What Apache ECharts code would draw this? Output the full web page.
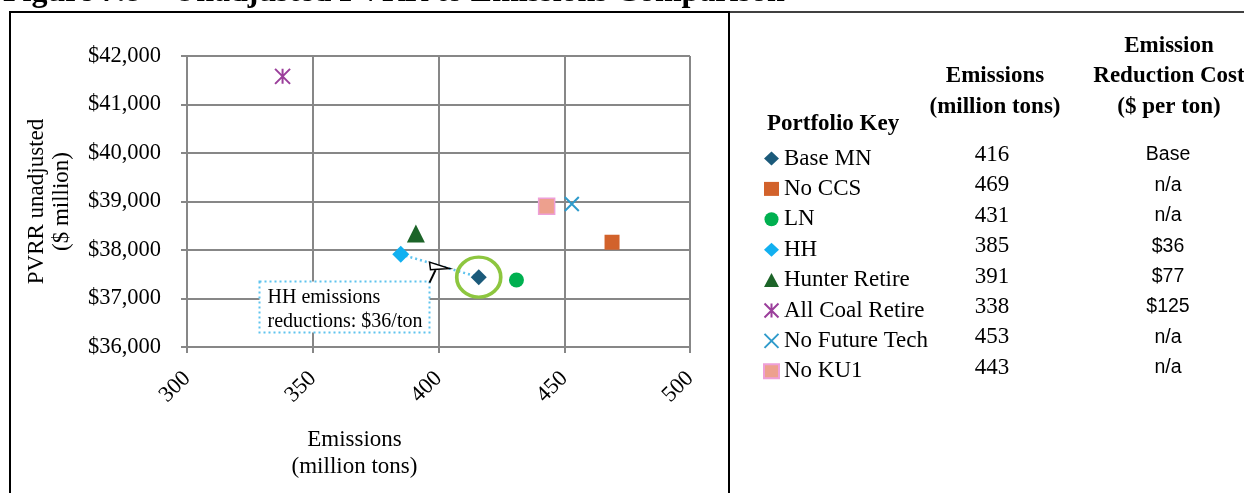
<!DOCTYPE html>
<html>
<head>
<meta charset="utf-8">
<script src="https://cdn.jsdelivr.net/npm/echarts@6/dist/echarts.min.js"></script>
<style>
  html, body { margin: 0; padding: 0; background: #ffffff; }
  #chart { width: 1244px; height: 493px; }
</style>
</head>
<body>
<div id="chart"></div>
<script>
// Portfolio results: emissions (million tons) vs. unadjusted PVRR ($ million)
const portfolios = ['Base MN', 'No CCS', 'LN', 'HH', 'Hunter Retire', 'All Coal Retire', 'No Future Tech', 'No KU1'];
const emissions = [416, 469, 431, 385, 391, 338, 453, 443];
const pvrr = [37440, 38160, 37380, 37910, 38340, 41580, 38950, 38900];
const reductionCost = ['Base', 'n/a', 'n/a', '$36', '$77', '$125', 'n/a', 'n/a'];
const xTicks = [300, 350, 400, 450, 500];
const yTicks = [36000, 37000, 38000, 39000, 40000, 41000, 42000];
const calloutLines = ['HH emissions', 'reductions: $36/ton'];

const SERIF = '"Liberation Serif", "Times New Roman", serif';
const SANS = '"Liberation Sans", Arial, sans-serif';
const GRID_GRAY = '#878787';

// marker look per portfolio
const markerStyles = {
  'Base MN':         { symbol: 'diamond',  size: 16, itemStyle: { color: '#1B5A7A', opacity: 1 } },
  'No CCS':          { symbol: 'rect',     size: 15, itemStyle: { color: '#D2622B', opacity: 1 } },
  'LN':              { symbol: 'circle',   size: 15, itemStyle: { color: '#00B050', opacity: 1 } },
  'HH':              { symbol: 'diamond',  size: 17, itemStyle: { color: '#12B0F0', opacity: 1 } },
  'Hunter Retire':   { symbol: 'triangle', size: 18, itemStyle: { color: '#1C6428', opacity: 1 } },
  'All Coal Retire': { symbol: 'path://M0,0L10,10M10,0L0,10M5,0L5,10', size: 15,
                       itemStyle: { color: 'rgba(0,0,0,0)', borderColor: '#9B3F9B', borderWidth: 2, opacity: 1 } },
  'No Future Tech':  { symbol: 'path://M0,0L10,10M10,0L0,10', size: 14,
                       itemStyle: { color: 'rgba(0,0,0,0)', borderColor: '#2F9BCB', borderWidth: 2, opacity: 1 } },
  'No KU1':          { symbol: 'rect',     size: 16,
                       itemStyle: { color: '#EDA08E', borderColor: '#EE9FD8', borderWidth: 1.5, opacity: 1 } }
};

const iBase = portfolios.indexOf('Base MN');
const iHH = portfolios.indexOf('HH');

const scatterSeries = portfolios.map((name, i) => ({
  name: name,
  type: 'scatter',
  symbol: markerStyles[name].symbol,
  symbolSize: markerStyles[name].size,
  itemStyle: markerStyles[name].itemStyle,
  z: 5,
  data: [[emissions[i], pvrr[i]]]
}));

// dotted link HH -> Base MN
const linkSeries = {
  name: 'link',
  type: 'line',
  symbol: 'none',
  silent: true,
  z: 3,
  lineStyle: { color: '#5EC3EE', width: 2.5, type: [2, 3] },
  data: [[emissions[iHH], pvrr[iHH]], [emissions[iBase], pvrr[iBase]]]
};

// highlight ring around the base portfolio
const ringSeries = {
  name: 'ring',
  type: 'scatter',
  symbol: 'circle',
  symbolSize: [44, 40],
  silent: true,
  z: 4,
  itemStyle: { color: 'rgba(0,0,0,0)', borderColor: '#8DC63F', borderWidth: 3.5, opacity: 1 },
  data: [[emissions[iBase], pvrr[iBase]]]
};

const chart = echarts.init(document.getElementById('chart'), null, { renderer: 'canvas' });

const axisLineStyle = { color: GRID_GRAY, width: 2 };

chart.setOption({
  animation: false,
  backgroundColor: '#ffffff',
  grid: { left: 187, right: 554, top: 56, bottom: 146, containLabel: false },
  xAxis: {
    type: 'value',
    min: xTicks[0],
    max: xTicks[xTicks.length - 1],
    interval: xTicks[1] - xTicks[0],
    axisLine: { show: true, lineStyle: axisLineStyle },
    axisTick: { show: true, length: 6, lineStyle: axisLineStyle },
    splitLine: { show: true, lineStyle: axisLineStyle },
    axisLabel: { rotate: 45, margin: 28, fontFamily: SERIF, fontSize: 22.5, color: '#000' },
    name: 'Emissions\n(million tons)',
    nameLocation: 'middle',
    nameGap: 79,
    nameTextStyle: { fontFamily: SERIF, fontSize: 23, color: '#000', lineHeight: 27, padding: [0, 168, 0, 0] }
  },
  yAxis: {
    type: 'value',
    min: yTicks[0],
    max: yTicks[yTicks.length - 1],
    interval: yTicks[1] - yTicks[0],
    axisLine: { show: true, lineStyle: axisLineStyle },
    axisTick: { show: true, length: 6, lineStyle: axisLineStyle },
    splitLine: { show: true, lineStyle: axisLineStyle },
    axisLabel: {
      margin: 26, fontFamily: SERIF, fontSize: 22.5, color: '#000',
      formatter: v => '$' + v.toLocaleString('en-US')
    },
    name: 'PVRR unadjusted\n($ million)',
    nameLocation: 'middle',
    nameRotate: 90,
    nameGap: 113,
    nameTextStyle: { fontFamily: SERIF, fontSize: 23, color: '#000', lineHeight: 25 }
  },
  legend: {
    data: portfolios,
    orient: 'vertical',
    left: 758,
    top: 142,
    itemWidth: 15,
    itemHeight: 14,
    itemGap: 7.4,
    selectedMode: false,
    textStyle: { fontFamily: SERIF, fontSize: 23, color: '#000' }
  },
  series: [linkSeries, ringSeries].concat(scatterSeries)
});

// ---- frame, title, table and callout drawn as graphic elements ----
const graphics = [];

// outer frame of the figure
graphics.push({ type: 'rect', silent: true, z: 0,
  shape: { x: 10, y: 12, width: 719, height: 520 },
  style: { fill: 'none', stroke: '#000', lineWidth: 2 } });
graphics.push({ type: 'line', silent: true, z: 0,
  shape: { x1: 729, y1: 12, x2: 1244, y2: 12 },
  style: { stroke: '#000', lineWidth: 1.5 } });

// figure caption (runs off the top edge)
graphics.push({ type: 'text', silent: true, x: 3, y: 9,
  style: { text: 'Figure 7.8 \u2013 Unadjusted PVRR to Emissions Comparison',
           font: 'bold 32px ' + SERIF, fill: '#000', align: 'left', verticalAlign: 'bottom' } });

// table headers
const headBold = 'bold 23px ' + SERIF;
graphics.push({ type: 'text', silent: true, x: 767, y: 124,
  style: { text: 'Portfolio Key', font: headBold, fill: '#000', align: 'left', verticalAlign: 'middle' } });
[['Emissions', 76], ['(million tons)', 107]].forEach(([t, y]) => graphics.push({
  type: 'text', silent: true, x: 995, y: y,
  style: { text: t, font: headBold, fill: '#000', align: 'center', verticalAlign: 'middle' } }));
[['Emission', 46], ['Reduction Cost', 76], ['($ per ton)', 107]].forEach(([t, y]) => graphics.push({
  type: 'text', silent: true, x: 1169, y: y,
  style: { text: t, font: headBold, fill: '#000', align: 'center', verticalAlign: 'middle' } }));

// table rows
const rowTop = 155, rowStep = 30.4;
portfolios.forEach((p, i) => {
  graphics.push({ type: 'text', silent: true, x: 992, y: rowTop + i * rowStep,
    style: { text: String(emissions[i]), font: '23px ' + SERIF, fill: '#000', align: 'center', verticalAlign: 'middle' } });
  graphics.push({ type: 'text', silent: true, x: 1168, y: rowTop + i * rowStep,
    style: { text: reductionCost[i], font: '19.5px ' + SANS, fill: '#000', align: 'center', verticalAlign: 'middle' } });
});

// callout pointing at the HH -> Base MN link
const pHH = chart.convertToPixel({ gridIndex: 0 }, [emissions[iHH], pvrr[iHH]]);
const pBase = chart.convertToPixel({ gridIndex: 0 }, [emissions[iBase], pvrr[iBase]]);
const tx = pHH[0] + 0.625 * (pBase[0] - pHH[0]);
const ty = pHH[1] + 0.625 * (pBase[1] - pHH[1]);
const boxR = tx - 20, boxT = ty + 13, boxW = 170, boxH = 51;
graphics.push({ type: 'rect', silent: true, z: 50,
  shape: { x: boxR - boxW, y: boxT, width: boxW, height: boxH },
  style: { fill: '#fff', stroke: '#5EC3EE', lineWidth: 2, lineDash: [2, 3] } });
calloutLines.forEach((t, k) => graphics.push({ type: 'text', silent: true, z: 51,
  x: boxR - boxW + 8, y: boxT + 16 + k * 24,
  style: { text: t, font: '20px ' + SERIF, fill: '#000', align: 'left', verticalAlign: 'middle' } }));
graphics.push({ type: 'polyline', silent: true, z: 52,
  shape: { points: [[boxR, boxT + 1], [tx - 14, ty + 1.5]] },
  style: { stroke: '#000', lineWidth: 2, fill: 'none' } });
graphics.push({ type: 'polygon', silent: true, z: 52,
  shape: { points: [[tx - 20, ty - 6.5], [tx, ty], [tx - 19, ty + 1.2]] },
  style: { stroke: '#000', lineWidth: 1.5, fill: '#fff' } });

chart.setOption({ graphic: graphics });
</script>
</body>
</html>
